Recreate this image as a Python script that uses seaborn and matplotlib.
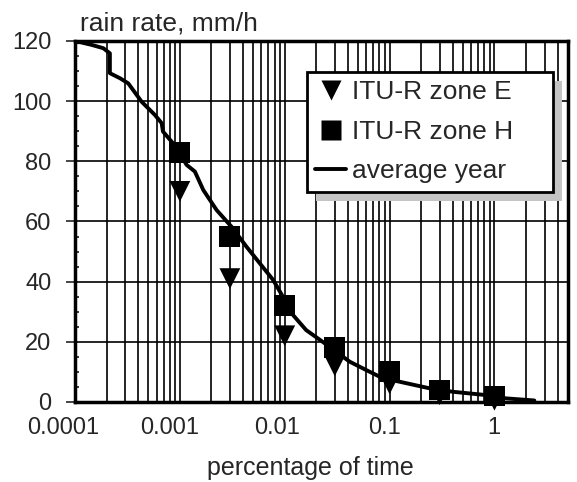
import numpy as np
import pandas as pd
import matplotlib
matplotlib.use("Agg")
import matplotlib.pyplot as plt
from matplotlib.lines import Line2D
from matplotlib.patches import Rectangle
from matplotlib.transforms import ScaledTranslation
from matplotlib.ticker import LogLocator, NullFormatter, MultipleLocator
import seaborn as sns

# ITU-R reference rain rates (mm/h) at given percentages of time
pct_levels = [0.001, 0.003, 0.01, 0.03, 0.1, 0.3, 1]
zone_e = [70, 41, 22, 12, 6, 2.4, 0.6]
zone_h = [83, 55, 32, 18, 10, 4, 2]

# measured exceedance curve for an average year
avg_pct = [1.0e-4, 1.12e-4, 1.44e-4, 1.86e-4, 2.15e-4, 2.15e-4, 2.69e-4, 3.22e-4,
           4.32e-4, 5.78e-4, 6.7e-4, 6.9e-4, 8.6e-4, 1.0e-3, 1.16e-3, 1.39e-3,
           1.67e-3, 2.24e-3, 3.1e-3, 4.32e-3, 5.78e-3, 7.74e-3, 9.6e-3, 1.2e-2,
           1.6e-2, 2.3e-2, 4.16e-2, 6.0e-2, 8.6e-2, 0.124, 0.24, 0.40, 0.83,
           1.29, 2.4]
avg_rate = [119.6, 119.6, 118.7, 117.6, 115.9, 109.3, 107.6, 105.9,
            99.8, 95.4, 92.7, 89.9, 86.0, 82.5, 78.8, 76.6,
            70.5, 63.8, 58.3, 51.6, 46.1, 40.6, 35.0, 28.9,
            23.9, 20.0, 13.4, 10.6, 7.9, 6.75, 4.55, 3.4, 2.3,
            1.2, 0.5]

x_ticks = [0.0001, 0.001, 0.01, 0.1, 1]
x_tick_labels = ["0.0001", "0.001", "0.01", "0.1", "1"]
y_ticks = [0, 20, 40, 60, 80, 100, 120]

sns.set_style("white")
plt.rcParams["font.family"] = ["Liberation Sans", "DejaVu Sans"]

fig = plt.figure(figsize=(5.77, 4.82), dpi=100)
ax = fig.add_axes([0.130, 0.166, 0.854, 0.749])

avg_df = pd.DataFrame({"pct": avg_pct, "rate": avg_rate})
sns.lineplot(data=avg_df, x="pct", y="rate", ax=ax, color="black", lw=2.8,
             estimator=None, sort=False, zorder=3)
sns.scatterplot(x=pct_levels, y=zone_h, ax=ax, marker="s", s=225,
                color="black", edgecolor="none", zorder=4, clip_on=False)
sns.scatterplot(x=pct_levels, y=zone_e, ax=ax, marker="v", s=225,
                color="black", edgecolor="none", zorder=4, clip_on=False)

ax.set_xscale("log")
ax.set_xlim(1e-4, 5)
ax.set_ylim(0, 120)
ax.set_xlabel("")
ax.set_ylabel("")

ax.set_xticks(x_ticks, x_tick_labels)
ax.xaxis.set_minor_locator(LogLocator(base=10, subs=np.arange(2, 10)))
ax.xaxis.set_minor_formatter(NullFormatter())
ax.set_yticks(y_ticks)
ax.yaxis.set_minor_locator(MultipleLocator(5))

ax.set_axisbelow(True)
ax.grid(True, which="major", axis="y", color="black", lw=1.2)
ax.grid(True, which="both", axis="x", color="black", lw=1.2)

ax.tick_params(axis="x", which="both", length=0, pad=11, labelsize=17)
ax.tick_params(axis="y", which="major", direction="out", length=6.5,
               width=1.2, pad=10.5, labelsize=17, left=True)
ax.tick_params(axis="y", which="minor", direction="in", length=3,
               width=1.3, left=True)

for side in ["left", "right", "top", "bottom"]:
    ax.spines[side].set_visible(True)
    ax.spines[side].set_color("black")
    ax.spines[side].set_linewidth(2.5)

# nudge the decade labels slightly to the left
label_shift_pt = [-8.6, -7.2, -5.4, -3.6, -0.7]
for lbl, dx in zip(ax.get_xticklabels(), label_shift_pt):
    lbl.set_transform(lbl.get_transform() + ScaledTranslation(dx / 72, 0, fig.dpi_scale_trans))

fig.text(80 / 577, 1 - 30 / 482, "rain rate, mm/h", fontsize=19,
         ha="left", va="baseline")
fig.text(310 / 577, 1 - 475 / 482, "percentage of time", fontsize=18,
         ha="center", va="baseline")

handles = [
    Line2D([], [], marker="v", ls="none", ms=15, color="black", mec="none"),
    Line2D([], [], marker="s", ls="none", ms=15, color="black", mec="none"),
    Line2D([], [], color="black", lw=2.8),
]
labels = ["ITU-R zone E", "ITU-R zone H", "average year"]
leg = ax.legend(handles, labels, loc="upper left",
                bbox_to_anchor=(0.4706, 0.5, 0.499, 0.414), mode="expand",
                fontsize=19, frameon=True, fancybox=False, framealpha=1,
                edgecolor="black", borderpad=0.32, labelspacing=0.58,
                handlelength=1.15, handletextpad=0.25, borderaxespad=0)
leg.get_frame().set_linewidth(2.0)
leg.set_zorder(6)

# drop shadow behind the legend box
fig.canvas.draw()
bb = leg.get_window_extent().transformed(ax.transAxes.inverted())
dx_ax = 9 / (0.854 * 577)
dy_ax = 9 / (0.749 * 482)
shadow = Rectangle((bb.x0 + dx_ax, bb.y0 - dy_ax), bb.width, bb.height,
                   transform=ax.transAxes, facecolor="#c4c4c4", edgecolor="none",
                   zorder=5, clip_on=False)
ax.add_patch(shadow)

fig.savefig("out.png", dpi=100)
